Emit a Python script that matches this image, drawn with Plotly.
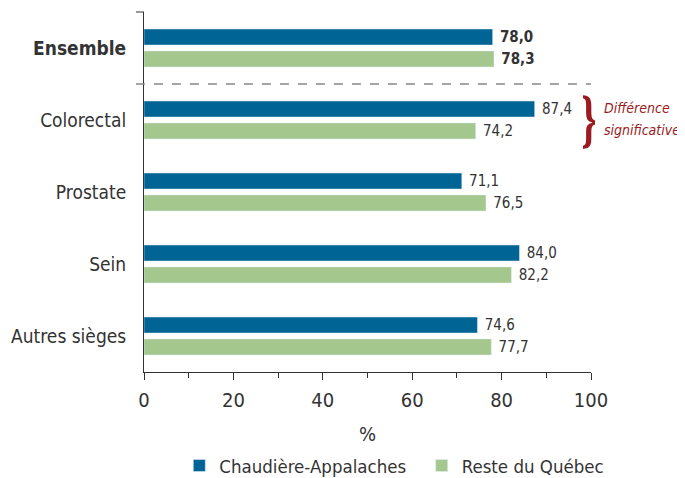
import plotly.graph_objects as go

categories = ["Ensemble", "Colorectal", "Prostate", "Sein", "Autres sièges"]
chaudiere = [78.0, 87.4, 71.1, 84.0, 74.6]
reste = [78.3, 74.2, 76.5, 82.2, 77.7]
x_ticks = [0, 20, 40, 60, 80, 100]
series_names = ["Chaudière-Appalaches", "Reste du Québec"]
note_lines = ["Différence", "significative"]

FONT = "Liberation Sans Narrow, DejaVu Sans Condensed, Arial Narrow, sans-serif"
BLUE = "#006494"
GREEN = "#A4C78D"
TXT = "#333333"
RED = "#9A1B22"
NB = "\u00a0"

def fmt(v, bold):
    s = f"{v:.1f}".replace(".", ",")
    return NB + (f"<b>{s}</b>" if bold else s)

ylabels = ["<b>Ensemble</b>"] + categories[1:]

fig = go.Figure()
fig.add_trace(go.Bar(
    y=ylabels, x=chaudiere, orientation="h", name=series_names[0] + NB * 2,
    marker_color=BLUE,
    text=[fmt(v, i == 0) for i, v in enumerate(chaudiere)],
    textposition="outside", constraintext="none",
    textfont=dict(size=15, color=TXT, family=FONT),
    cliponaxis=False,
))
fig.add_trace(go.Bar(
    y=ylabels, x=reste, orientation="h", name=series_names[1],
    marker_color=GREEN,
    text=[fmt(v, i == 0) for i, v in enumerate(reste)],
    textposition="outside", constraintext="none",
    textfont=dict(size=15, color=TXT, family=FONT),
    cliponaxis=False,
))

# page body has an 8px margin: figure is drawn 8px right/down
fig.update_layout(
    width=677, height=470,
    margin=dict(l=136, r=94, t=4, b=106, autoexpand=False),
    paper_bgcolor="white", plot_bgcolor="white",
    barmode="group", bargap=0.39, bargroupgap=0.27,
    font=dict(family=FONT, color=TXT, size=18),
    showlegend=True,
    legend=dict(orientation="h", x=0.56, xanchor="center", y=-0.261, yanchor="middle",
                font=dict(size=18.5, color=TXT), traceorder="normal",
                itemwidth=30),
)
fig.update_xaxes(
    range=[0, 100], tickvals=x_ticks, ticktext=[str(t) for t in x_ticks],
    showline=True, linecolor="#333", linewidth=1,
    ticks="outside", ticklen=7, tickcolor="#333",
    minor=dict(dtick=10, ticks="outside", ticklen=5, tickcolor="#333"),
    showgrid=False, zeroline=False, automargin=False,
    tickfont=dict(size=20, color=TXT), ticklabelstandoff=3,
    title=dict(text="%", font=dict(size=20, color=TXT), standoff=15),
)
fig.update_yaxes(
    autorange="reversed", showline=True, linecolor="#333", linewidth=1,
    showgrid=False, ticks="", ticklabelstandoff=13, automargin=False,
    tickfont=dict(size=19, color=TXT),
)

# top cap of y axis
fig.add_shape(type="line", xref="paper", yref="paper", x0=-0.018, x1=0, y0=1, y1=1,
              line=dict(color="#333", width=1))
# dashed separator
fig.add_shape(type="line", xref="paper", yref="y", x0=-0.018, x1=1.0, y0=0.5, y1=0.5,
              line=dict(color="#888", width=1.3, dash="dash"))

# brace and note
fig.add_annotation(xref="paper", yref="y", x=1.0, y=1, xanchor="left", yanchor="middle",
                   text="}", showarrow=False, xshift=-9, width=12, borderpad=0,
                   font=dict(size=58, color=RED, family="DejaVu Serif, serif"))
for line, ys in zip(note_lines, [12, -10]):
    fig.add_annotation(xref="paper", yref="y", x=1.0, y=1, xanchor="left", yanchor="middle",
                       text=f"<i>{line}</i>", showarrow=False,
                       xshift=11, yshift=ys, align="left",
                       font=dict(size=14, color=RED, family=FONT))

fig.write_html("out.html")
